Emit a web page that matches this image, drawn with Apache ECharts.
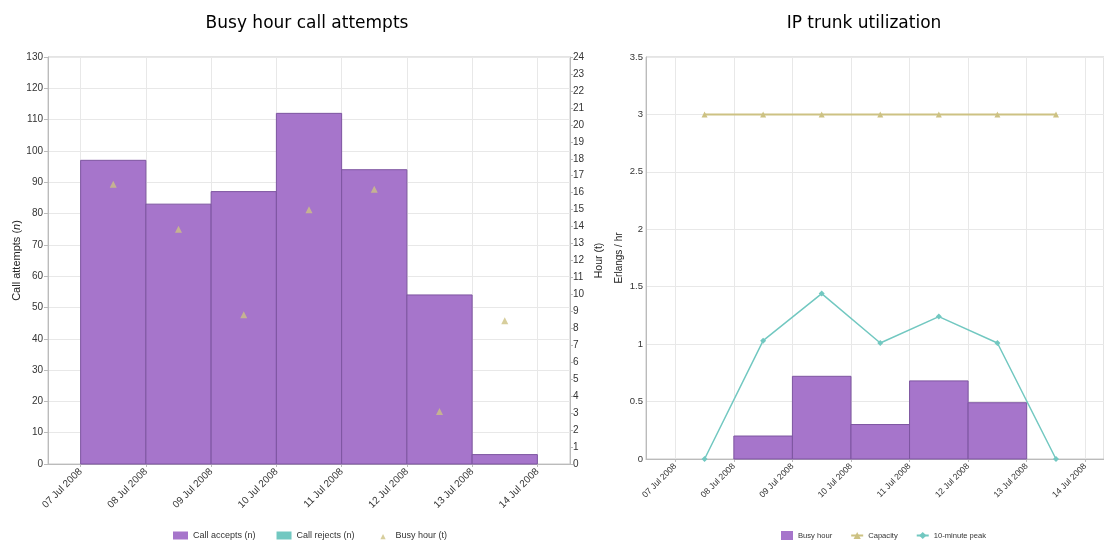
<!DOCTYPE html>
<html>
<head>
<meta charset="utf-8">
<script src="https://cdn.jsdelivr.net/npm/echarts@6/dist/echarts.min.js"></script>
<style>html,body{margin:0;padding:0;background:#fff}#c{width:1104px;height:544px}</style>
</head>
<body>
<div id="c"></div>
<script>
// ---- data ----
var days = [7, 8, 9, 10, 11, 12, 13, 14];
var tickLabels = ['07 Jul 2008', '08 Jul 2008', '09 Jul 2008', '10 Jul 2008', '11 Jul 2008', '12 Jul 2008', '13 Jul 2008', '14 Jul 2008'];
var barDays = [7, 8, 9, 10, 11, 12, 13];
var callAccepts = [97, 83, 87, 112, 94, 54, 3];
var callRejects = [0, 0, 0, 0, 0, 0, 0];
var busyHourT = [16.5, 13.85, 8.8, 15.0, 16.2, 3.1, 8.45];
var busyHourErl = [0, 0.2, 0.72, 0.3, 0.68, 0.49, 0];
var capacity = [3, 3, 3, 3, 3, 3, 3];
var peak10 = [0, 1.03, 1.44, 1.01, 1.24, 1.01, 0];

var PURPLE = '#a675cb', PURPLE_B = '#7d55a0', TEAL = '#72c8c1', KHAKI = '#cdc283';
var FONT = 'Liberation Sans, Arial, sans-serif';
var SMALL_TRI = 'path://M0,0 L0.01,0 Z M20,10 L20.01,10 Z M10,3 L13.5,10 L6.5,10 Z';

function spans(vals) {
  return barDays.map(function (d, i) { return [d, d + 1, vals[i]]; });
}
function mids(vals) {
  return barDays.map(function (d, i) { return [d + 0.5, vals[i]]; });
}
function makeRender(fill, stroke) {
  return function (params, api) {
    var v = api.value(2);
    if (!v) return null;
    var p0 = api.coord([api.value(0), v]);
    var p1 = api.coord([api.value(1), 0]);
    return {
      type: 'rect',
      shape: { x: p0[0], y: p0[1], width: p1[0] - p0[0], height: p1[1] - p0[1] },
      style: { fill: fill, stroke: stroke, lineWidth: 1 }
    };
  };
}
function labelFmt(v) {
  var i = days.indexOf(Math.round(v));
  return i >= 0 ? tickLabels[i] : '';
}
function xAxisDef(gridIndex, max, fs) {
  return {
    type: 'value', gridIndex: gridIndex, min: 6.5, max: max,
    axisLine: { show: true, lineStyle: { color: '#bbb' } },
    axisTick: { show: true, length: 3, customValues: days, lineStyle: { color: '#bbb' } },
    axisLabel: { customValues: days, rotate: 45, formatter: labelFmt, fontSize: fs, color: '#333', fontFamily: FONT, margin: 6 },
    splitLine: { show: true, lineStyle: { color: '#e8e8e8' } }
  };
}

var chart = echarts.init(document.getElementById('c'), null, { renderer: 'canvas' });
chart.setOption({
  animation: false,
  backgroundColor: '#fff',
  title: [
    { text: 'Busy hour call attempts', left: 302, textAlign: 'center', top: 10,
      textStyle: { fontFamily: 'DejaVu Sans', fontSize: 17, fontWeight: 'normal', color: '#000' } },
    { text: 'IP trunk utilization', left: 859, textAlign: 'center', top: 10,
      textStyle: { fontFamily: 'DejaVu Sans', fontSize: 17, fontWeight: 'normal', color: '#000' } }
  ],
  legend: [
    { left: 173, top: 531, padding: 0, itemWidth: 15, itemHeight: 8, itemGap: 21,
      textStyle: { fontSize: 9, color: '#333', fontFamily: FONT },
      data: [{ name: 'Call accepts (n)', icon: 'rect' }, { name: 'Call rejects (n)', icon: 'rect' }, { name: 'Busy hour (t)', icon: SMALL_TRI }] },
    { left: 781, top: 531, padding: 0, itemWidth: 12, itemHeight: 9, itemGap: 18,
      textStyle: { fontSize: 7.6, color: '#333', fontFamily: FONT },
      data: [{ name: 'Busy hour', icon: 'rect' }, 'Capacity', '10-minute peak'] }
  ],
  grid: [
    { left: 48, right: 534, top: 57, bottom: 80, show: true, borderColor: '#c8c8c8', borderWidth: 1 },
    { left: 646, right: 0, top: 57, bottom: 85, show: true, borderColor: '#c8c8c8', borderWidth: 1 }
  ],
  xAxis: [xAxisDef(0, 14.5, 10), xAxisDef(1, 14.32, 8.6)],
  yAxis: [
    { type: 'value', gridIndex: 0, min: 0, max: 130, interval: 10, position: 'left',
      name: 'Call attempts ({i|n})', nameLocation: 'middle', nameGap: 26,
      nameTextStyle: { fontSize: 11, color: '#222', fontFamily: FONT, rich: { i: { fontStyle: 'italic', fontSize: 11, fontFamily: FONT, color: '#222' } } },
      axisLine: { show: true, lineStyle: { color: '#bbb' } },
      axisTick: { show: true, length: 4, lineStyle: { color: '#bbb' } },
      axisLabel: { fontSize: 10, color: '#333', fontFamily: FONT, margin: 5 },
      splitLine: { show: true, lineStyle: { color: '#e8e8e8' } } },
    { type: 'value', gridIndex: 0, min: 0, max: 24, interval: 1, position: 'right',
      name: 'Hour (t)', nameLocation: 'middle', nameGap: 24,
      nameTextStyle: { fontSize: 10.5, color: '#222', fontFamily: FONT },
      axisLine: { show: true, lineStyle: { color: '#bbb' } },
      axisTick: { show: true, length: 3, lineStyle: { color: '#bbb' } },
      axisLabel: { fontSize: 10, color: '#333', fontFamily: FONT, margin: 3 },
      splitLine: { show: false } },
    { type: 'value', gridIndex: 1, min: 0, max: 3.5, interval: 0.5, position: 'left',
      name: 'Erlangs / hr', nameLocation: 'middle', nameGap: 22,
      nameTextStyle: { fontSize: 10, color: '#222', fontFamily: FONT },
      axisLine: { show: true, lineStyle: { color: '#bbb' } },
      axisTick: { show: false },
      axisLabel: { fontSize: 9.5, color: '#333', fontFamily: FONT, margin: 3 },
      splitLine: { show: true, lineStyle: { color: '#e8e8e8' } } }
  ],
  series: [
    { name: 'Call accepts (n)', type: 'custom', xAxisIndex: 0, yAxisIndex: 0,
      itemStyle: { color: PURPLE }, encode: { x: [0, 1], y: 2 },
      renderItem: makeRender(PURPLE, PURPLE_B), data: spans(callAccepts) },
    { name: 'Call rejects (n)', type: 'custom', xAxisIndex: 0, yAxisIndex: 0,
      itemStyle: { color: TEAL }, encode: { x: [0, 1], y: 2 },
      renderItem: makeRender(TEAL, '#4fa8a1'), data: spans(callRejects) },
    { name: 'Busy hour (t)', type: 'scatter', xAxisIndex: 0, yAxisIndex: 1,
      symbol: 'triangle', symbolSize: 7, itemStyle: { color: KHAKI }, data: mids(busyHourT) },
    { name: 'Busy hour', type: 'custom', xAxisIndex: 1, yAxisIndex: 2,
      itemStyle: { color: PURPLE }, encode: { x: [0, 1], y: 2 },
      renderItem: makeRender(PURPLE, PURPLE_B), data: spans(busyHourErl) },
    { name: 'Capacity', type: 'line', xAxisIndex: 1, yAxisIndex: 2,
      symbol: 'triangle', symbolSize: 6, showAllSymbol: true,
      lineStyle: { color: KHAKI, width: 2 }, itemStyle: { color: KHAKI }, data: mids(capacity) },
    { name: '10-minute peak', type: 'line', xAxisIndex: 1, yAxisIndex: 2,
      symbol: 'diamond', symbolSize: 6, showAllSymbol: true,
      lineStyle: { color: TEAL, width: 1.5 }, itemStyle: { color: TEAL }, data: mids(peak10) }
  ]
});
</script>
</body>
</html>
